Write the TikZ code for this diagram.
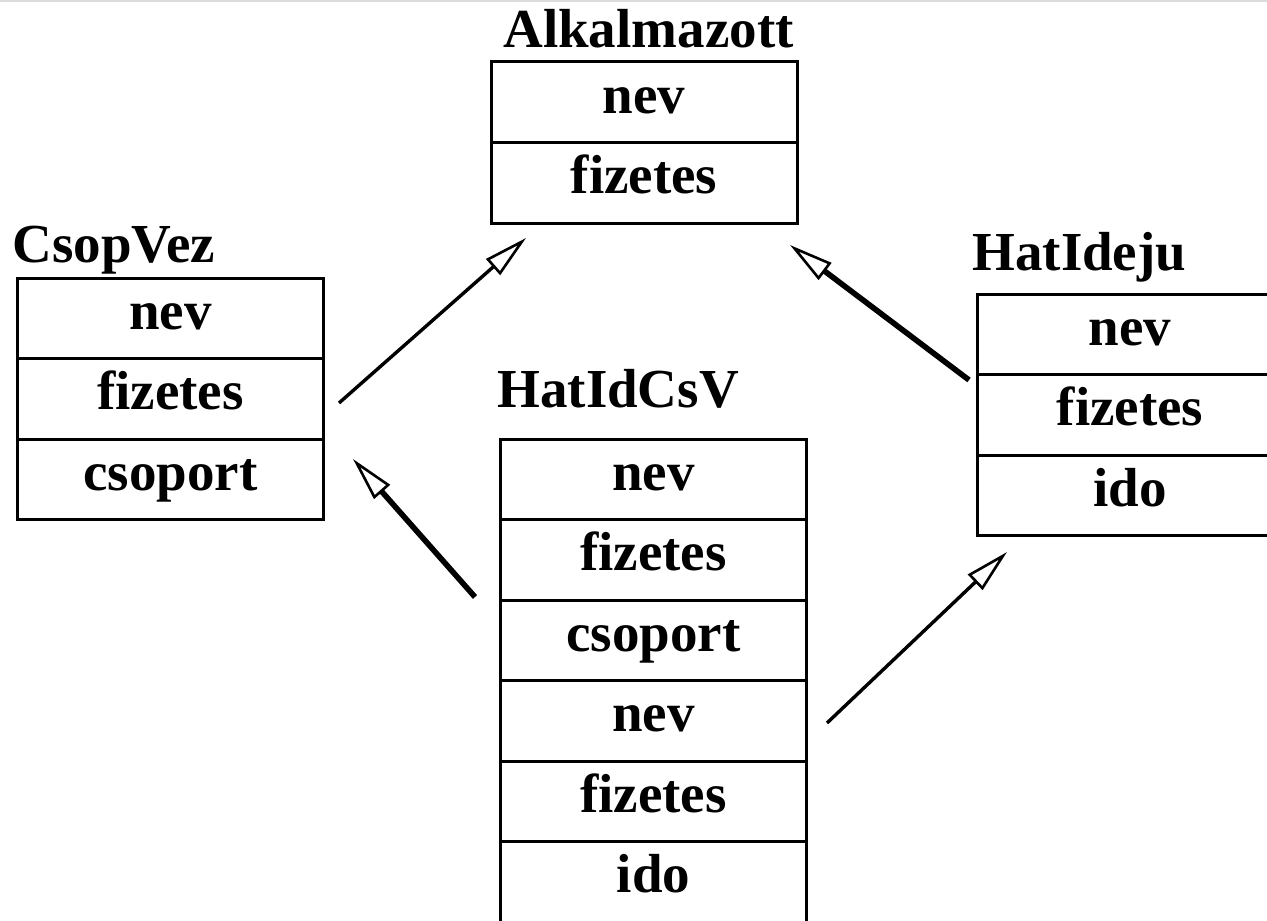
\documentclass[tikz,border=0pt]{standalone}
\usepackage{fontspec}
\setmainfont{Liberation Serif}
\usepackage{tikz}
\usetikzlibrary{arrows.meta,positioning,calc}

\begin{document}
\begin{tikzpicture}[
x=0.5pt, y=-0.5pt,
>={Triangle[open,length=22pt,width=10.5pt,line width=1.3pt]},
attr-node/.style = {draw=black,line width=1.5pt,outer sep=0pt,minimum width=153pt,minimum height=40.25pt,
  text height=18.2pt,text depth=7.2pt,font=\bfseries\fontsize{27.5pt}{33pt}\selectfont},
class-name/.style = {anchor=base west,inner sep=0pt,font=\bfseries\fontsize{27.5pt}{33pt}\selectfont},
thin-arrow/.style = {->,line width=1.7pt},
thick-arrow/.style = {->,line width=2.8pt}
]
\clip (0,0) rectangle (1267,920);
\fill[black!14] (0,0) rectangle (1267,2.5);

% Alkalmazott
\node [attr-node] (alk1) at (644,102.25) {nev};
\node [attr-node, below=0pt of alk1] (alk2) {fizetes};

% CsopVez
\node [attr-node] (csv1) at (170.5,318.25) {nev};
\node [attr-node, below=0pt of csv1] (csv2) {fizetes};
\node [attr-node, below=0pt of csv2] (csv3) {csoport};

% HatIdeju
\node [attr-node] (hi1) at (1130,334.25) {nev};
\node [attr-node, below=0pt of hi1] (hi2) {fizetes};
\node [attr-node, below=0pt of hi2] (hi3) {ido};

% HatIdCsV
\node [attr-node] (hcv1) at (653.5,479.25) {nev};
\node [attr-node, below=0pt of hcv1] (hcv2) {fizetes};
\node [attr-node, below=0pt of hcv2] (hcv3) {csoport};
\node [attr-node, below=0pt of hcv3] (hcv4) {nev};
\node [attr-node, below=0pt of hcv4] (hcv5) {fizetes};
\node [attr-node, below=0pt of hcv5] (hcv6) {ido};

% labels
\node [class-name] (alk) at (503,48) {Alkalmazott};
\node [class-name] (csv) at (12,262) {CsopVez};
\node [class-name] (hi) at (972,270.5) {HatIdeju};
\node [class-name] (hcv) at (497,407) {HatIdCsV};

% arrow ends
\coordinate (csv-out) at (339,403);
\coordinate (alk-in-l) at (526,238);
\coordinate (hi-out) at (969,380);
\coordinate (alk-in-r) at (790,245);
\coordinate (hcv-out-l) at (475,597);
\coordinate (csv-in) at (353,459);
\coordinate (hcv-out-r) at (827,723);
\coordinate (hi-in) at (1007,552);

% arrows
\draw[thin-arrow] (csv-out) -- (alk-in-l);
\draw[thick-arrow] (hi-out) -- (alk-in-r);
\draw[thick-arrow] (hcv-out-l) -- (csv-in);
\draw[thin-arrow] (hcv-out-r) -- (hi-in);

\end{tikzpicture}
\end{document}
